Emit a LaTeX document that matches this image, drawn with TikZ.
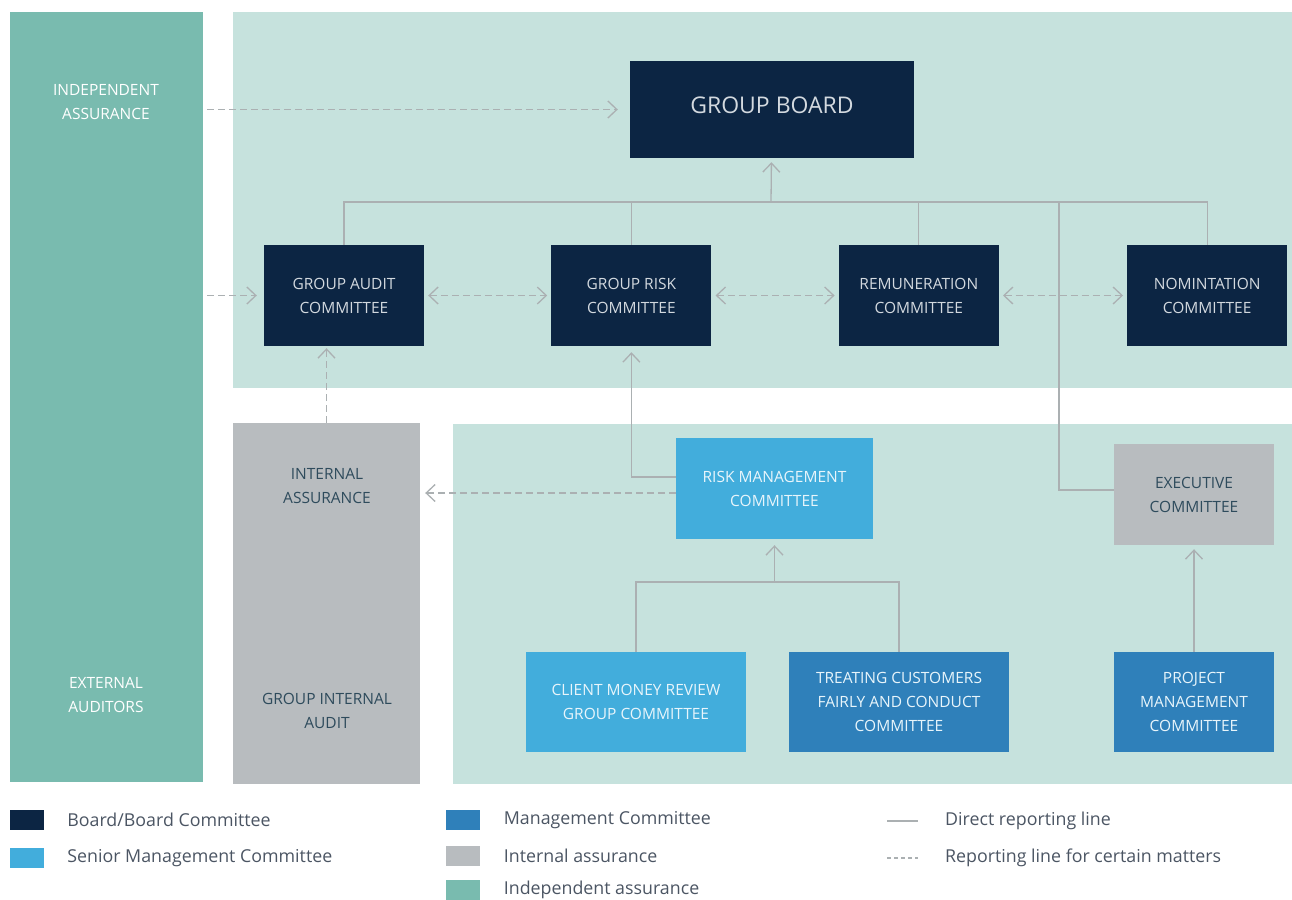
\documentclass[tikz,border=0pt]{standalone}
\usepackage{fontspec}
\setmainfont{Open Sans}
\usetikzlibrary{positioning,arrows.meta}

\definecolor{navy}{HTML}{0C2543}
\definecolor{skyblue}{HTML}{42ADDC}
\definecolor{midblue}{HTML}{2F80BA}
\definecolor{assgrey}{HTML}{B8BCBF}
\definecolor{indteal}{HTML}{79BBAF}
\definecolor{paleteal}{HTML}{C6E2DD}
\definecolor{linegrey}{HTML}{ABB0B2}
\definecolor{slate}{HTML}{2E4B5C}
\definecolor{legtext}{HTML}{4B5563}
\definecolor{navytext}{HTML}{D3D9DF}
\definecolor{skytext}{HTML}{E8F5FB}

\tikzset{
  box/.style={rectangle, minimum width=160pt, minimum height=101pt, inner sep=0pt, align=center, font=\fontsize{15.5}{24}\selectfont},
  boardbox/.style={box, fill=navy, text=navytext},
  seniorbox/.style={box, fill=skyblue, text=skytext},
  mgmtbox/.style={box, fill=midblue, text=skytext},
  execbox/.style={box, fill=assgrey, text=slate},
  label/.style={inner sep=0pt, align=center, font=\fontsize{15.5}{24}\selectfont},
  key/.style={rectangle, minimum width=34pt, minimum height=20pt, inner sep=0pt},
  keytext/.style={inner sep=0pt, anchor=west, text=legtext, font=\fontsize{17.8}{20}\selectfont},
  line/.style={draw=linegrey, line width=1.3pt},
  dashline/.style={line, dash pattern=on 7pt off 4pt},
  arr/.style={-{Straight Barb[length=9pt,width=17pt]}},
  twoarr/.style={{Straight Barb[length=9pt,width=17pt]}-{Straight Barb[length=9pt,width=17pt]}}
}

\begin{document}
\begin{tikzpicture}[x=1pt, y=-1pt, node distance=127pt]
\useasboundingbox (0,0) rectangle (1292,899);

    % Panels
    \fill[paleteal] (233,12) rectangle (1292,388);
    \fill[paleteal] (453,424) rectangle (1292,784);

    % Nodes
    \node (indep) [rectangle, fill=indteal, minimum width=193pt, minimum height=770pt, inner sep=0pt] at (106.5,397) {};
    \node (indeplbl) [label, text=white] at (106,102) {INDEPENDENT\\ASSURANCE};
    \node (extlbl) [label, text=white] at (106,695) {EXTERNAL\\AUDITORS};

    \node (intass) [rectangle, fill=assgrey, minimum width=187pt, minimum height=361pt, inner sep=0pt] at (326.5,603.5) {};
    \node (intlbl) [label, text=slate] at (327,486) {INTERNAL\\ASSURANCE};
    \node (gialbl) [label, text=slate] at (327,711) {GROUP INTERNAL\\AUDIT};

    \node (board) [boardbox, minimum width=284pt, minimum height=97pt, text depth=9pt, font=\fontsize{23}{26}\selectfont] at (772,109.5) {GROUP BOARD};
    \node (audit) [boardbox] at (344,295.5) {GROUP AUDIT\\COMMITTEE};
    \node (risk) [boardbox, right=of audit] {GROUP RISK\\COMMITTEE};
    \node (remun) [boardbox, right=of risk] {REMUNERATION\\COMMITTEE};
    \node (nomin) [boardbox, right=128pt of remun] {NOMINTATION\\COMMITTEE};

    \node (rmc) [seniorbox, minimum width=197pt] at (774.5,488.5) {RISK MANAGEMENT\\COMMITTEE};
    \node (exec) [execbox] at (1194,494.5) {EXECUTIVE\\COMMITTEE};
    \node (client) [seniorbox, minimum width=220pt, minimum height=100pt] at (636,702) {CLIENT MONEY REVIEW\\GROUP COMMITTEE};
    \node (tcf) [mgmtbox, minimum width=220pt, minimum height=100pt] at (899,702) {TREATING CUSTOMERS\\FAIRLY AND CONDUCT\\COMMITTEE};
    \node (projm) [mgmtbox, minimum height=100pt] at (1194,702) {PROJECT\\MANAGEMENT\\COMMITTEE};

    \coordinate (bus) at (771,202);
    \coordinate (exectap) at (1059,202);
    \coordinate (exectie) at ([yshift=4.5pt]exec.west);
    \coordinate (rmctie) at ([yshift=11.5pt]rmc.west);
    \coordinate (rmcdash) at ([yshift=-4.5pt]rmc.west);
    \coordinate (mbus) at (774.5,582);

    % Arrows
    \draw [line] (audit.north) |- (bus) -| (nomin.north);
    \draw [line] (risk.north) -- (risk.north |- bus);
    \draw [line] (remun.north) -- (remun.north |- bus);
    \draw [line, arr, shorten >=4pt] (bus) -- (board);
    \draw [line] (exectie) -| (exectap);
    \draw [line, arr, shorten >=6pt] (rmctie) -| (risk.south);
    \draw [line] (client.north) |- (mbus) -| (tcf.north);
    \draw [line, arr, shorten >=6pt] (mbus) -- (rmc);
    \draw [line, arr, shorten >=4pt] (projm) -- (exec);

    \draw [dashline, arr, shorten <=4pt, shorten >=12pt] (indep.east |- board) -- (board);
    \draw [dashline, arr, shorten <=4pt, shorten >=7pt] (indep.east |- audit) -- (audit);
    \draw [dashline, twoarr, shorten <=4pt, shorten >=4pt] (audit) -- (risk);
    \draw [dashline, twoarr, shorten <=4pt, shorten >=4pt] (risk) -- (remun);
    \draw [dashline, twoarr, shorten <=4pt, shorten >=4pt] (remun) -- (nomin);
    \draw [dashline, arr, shorten >=2pt] (intass.north) -- (intass.north |- audit.south);
    \draw [dashline, arr, shorten >=5pt] (rmcdash) -- (rmcdash -| intass.east);

    % Legend
    \node (keyboard) [key, fill=navy] at (27,820) {};
    \node (keysenior) [key, fill=skyblue] at (27,858) {};
    \node (keymgmt) [key, fill=midblue] at (462.5,820) {};
    \node (keyint) [key, fill=assgrey] at (462.5,856) {};
    \node (keyind) [key, fill=indteal] at (462.5,890) {};
    \node [keytext, right=23pt of keyboard] {Board/Board Committee};
    \node [keytext, right=23pt of keysenior] {Senior Management Committee};
    \node [keytext, right=24pt of keymgmt] {Management Committee};
    \node [keytext, right=24pt of keyint] {Internal assurance};
    \node [keytext, right=24pt of keyind] {Independent assurance};
    \coordinate (keydirA) at (887,821);
    \coordinate (keydirB) at (918,821);
    \coordinate (keydashA) at (887,858);
    \coordinate (keydashB) at (918,858);
    \draw [line] (keydirA) -- (keydirB);
    \draw [line, dash pattern=on 4pt off 3pt] (keydashA) -- (keydashB);
    \node [keytext, right=27pt of keydirB] {Direct reporting line};
    \node [keytext, right=27pt of keydashB] {Reporting line for certain matters};

\end{tikzpicture}
\end{document}
